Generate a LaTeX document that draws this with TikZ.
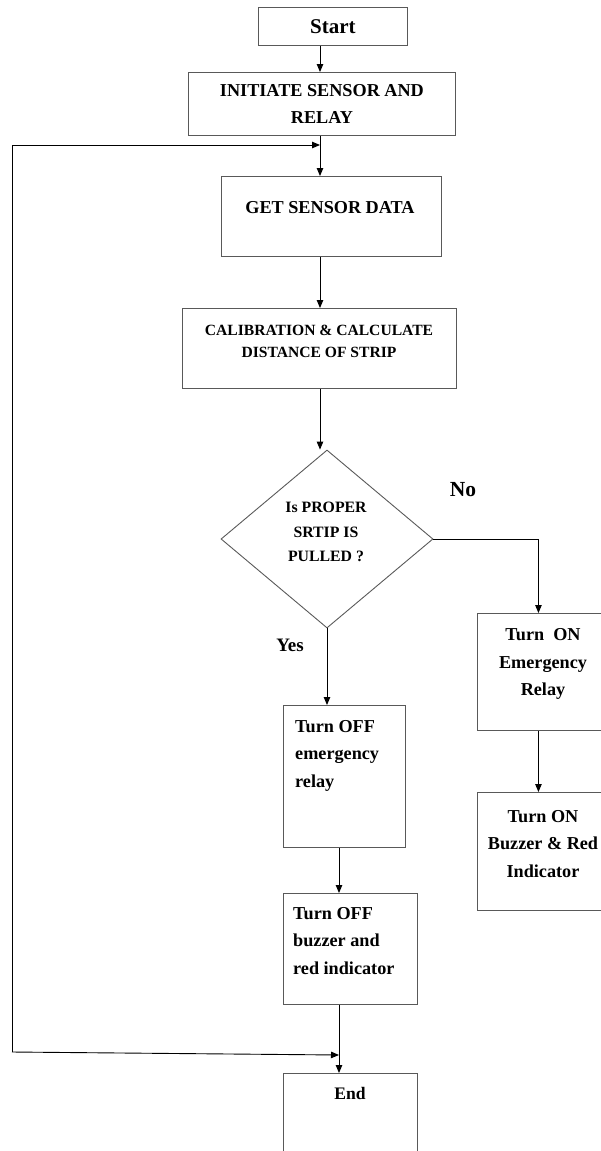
\documentclass[tikz,border=0pt]{standalone}
\usepackage{fontspec}
\setmainfont{Liberation Serif}
\usetikzlibrary{arrows.meta,shapes.geometric}

\begin{document}
\begin{tikzpicture}[x=1pt, y=-1pt,
        box/.style={draw=black!65, line width=0.9pt, rectangle, inner sep=0pt, anchor=north west},
        big/.style={font=\bfseries\fontsize{18.2}{27.5}\selectfont, inner sep=0pt},
        mid/.style={font=\bfseries\fontsize{15.8}{24.5}\selectfont, inner sep=0pt, align=center},
        small/.style={font=\bfseries\fontsize{15.6}{22}\selectfont, inner sep=0pt, align=center},
        arr/.style={-{Triangle[length=8pt, width=6.5pt]}, line width=0.9pt}]
        \useasboundingbox (0,0) rectangle (600,1151);

        \node[box, minimum width=149pt, minimum height=38pt, font=\bfseries\fontsize{21}{25}\selectfont] (start) at (258,7) {Start};
        \node[box, minimum width=267pt, minimum height=63pt, big, align=center] (init) at (188,72) {INITIATE SENSOR AND\\RELAY};
        \node[box, minimum width=220pt, minimum height=80pt] (get) at (221,176) {};
        \node[box, minimum width=274pt, minimum height=80pt] (cal) at (182,308) {};
        \node[draw=black!65, line width=0.9pt, diamond, inner sep=0pt, minimum width=212pt, minimum height=178pt] (dia) at (327,539) {};
        \node[box, minimum width=132pt, minimum height=117pt] (on1) at (477,613) {};
        \node[box, minimum width=132pt, minimum height=118pt] (on2) at (477,792) {};
        \node[box, minimum width=122pt, minimum height=142pt] (off1) at (283,705) {};
        \node[box, minimum width=134pt, minimum height=111pt] (off2) at (283,893) {};
        \node[box, minimum width=134pt, minimum height=100pt] (endB) at (283,1073) {};

        \node[big] (getT) at (330,208) {GET SENSOR DATA};
        \node[small] (calT) at (319,341) {CALIBRATION \& CALCULATE\\DISTANCE OF STRIP};
        \node[mid] (diaT) at (326,532) {Is PROPER\\SRTIP IS\\PULLED ?};
        \node[big, align=center] (on1T) at (543,664) {Turn\ \ ON\\Emergency\\Relay};
        \node[big, align=center] (on2T) at (543,844) {Turn ON\\Buzzer \& Red\\Indicator};
        \node[big, align=left, anchor=north west] (off1T) at (295,720) {Turn OFF\\emergency\\relay};
        \node[big, align=left, anchor=north west] (off2T) at (293,907) {Turn OFF\\buzzer and\\red indicator};
        \node[font=\bfseries\fontsize{17.6}{21}\selectfont, inner sep=0pt] (endT) at (350,1093) {End};
        \node[font=\bfseries\fontsize{21.5}{25}\selectfont, inner sep=0pt] (noL) at (463,490) {No};
        \node[font=\bfseries\fontsize{19}{22}\selectfont, inner sep=0pt] (yesL) at (290,645) {Yes};

        \coordinate (upx) at (320,0);
        \coordinate (lowx) at (339,0);
        \coordinate (loopL) at (12,1052);
        \coordinate (loopT) at (12,145);
        \coordinate (loopIn) at (320,145);
        \coordinate (loopOut) at (339,1055);

        \draw[arr] (start.south -| upx) -- (init.north -| upx);
        \draw[arr] (init.south -| upx) -- (get.north -| upx);
        \draw[arr] (get.south -| upx) -- (cal.north -| upx);
        \draw[arr] (cal.south -| upx) -- (dia.north -| upx);
        \draw[arr] (dia.south) -- (dia.south |- off1.north);
        \draw[arr] (dia.east) -| ([xshift=-5pt]on1.north);
        \draw[arr] ([xshift=-5pt]on1.south) -- ([xshift=-5pt]on2.north);
        \draw[arr] (off1.south -| lowx) -- (off2.north -| lowx);
        \draw[arr] (off2.south -| lowx) -- (endB.north -| lowx);
        \draw[arr] (loopL) -- (loopOut);
        \draw[arr] (loopL) -- (loopT) -- (loopIn);
\end{tikzpicture}
\end{document}
